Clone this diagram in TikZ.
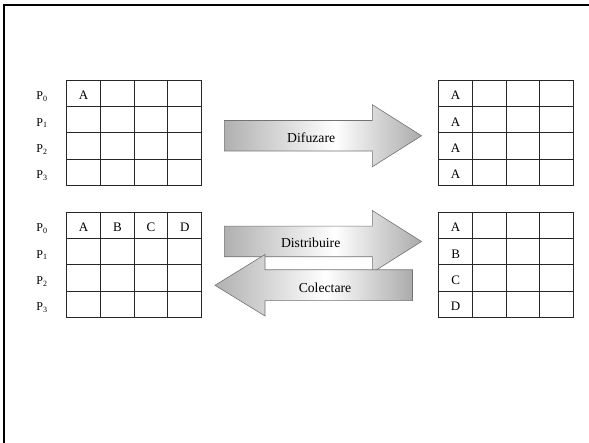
\documentclass[tikz,border=0pt]{standalone}
\usepackage{fontspec}
\setmainfont{Liberation Serif}
\pgfdeclarehorizontalshading{arrowshade}{100bp}{%
  color(0bp)=(gray!62); color(25bp)=(gray!62); color(53bp)=(white);
  color(75bp)=(gray!66); color(100bp)=(gray!66)}
\tikzset{
  cellgrid/.style={line width=0.9pt, draw=black!85},
  celltext/.style={anchor=base, inner sep=0pt, font=\fontsize{13}{15}\selectfont},
  proclabel/.style={anchor=base, inner sep=0pt, font=\fontsize{12}{14}\selectfont},
  bigarrow/.style={shading=arrowshade, draw=black!55, line width=0.6pt, line join=miter},
  arrowtext/.style={anchor=base, inner sep=0pt, font=\fontsize{13.7}{16}\selectfont},
}
\begin{document}
\begin{tikzpicture}[x=1pt, y=-1pt]
\useasboundingbox (0,0) rectangle (589,443);
\fill[white] (0,0) rectangle (589,443);

% page frame: only the top and left edges are visible
\draw[line width=2pt] (4.3,443) |- (589,5.3);

% the four 4x4 grids (column width 33.7, row height 26.35)
\foreach \gx/\gy in {66.8/80, 438.8/80, 66.8/212, 438.8/212} {
  \draw[cellgrid] (\gx,\gy) rectangle ++(134.8,105.4);
  \foreach \k in {1,2,3} {
    \draw[cellgrid] ({\gx+33.7*\k},\gy) -- ++(0,105.4);
    \draw[cellgrid] (\gx,{\gy+26.35*\k}) -- ++(134.8,0);
  }
}

% process labels beside the left grids
\foreach \gy/\gn in {80/top, 212/bot} {
  \foreach \r in {0,1,2,3} {
    \node[proclabel] (p-\gn-\r) at (42,{\gy+26.35*\r+19.8}) {P\textsubscript{\r}};
  }
}

% grid contents
\node[celltext] (tl-a) at (83.65,99.7) {A};
\foreach \r in {0,1,2,3} {
  \node[celltext] (tr-\r) at (455.65,{80+26.35*\r+19.7}) {A};
}
\foreach \c/\t in {0/A,1/B,2/C,3/D} {
  \node[celltext] (bl-\c) at ({66.8+33.7*\c+16.85},231.7) {\t};
}
\foreach \r/\t in {0/A,1/B,2/C,3/D} {
  \node[celltext] (br-\r) at (455.65,{212+26.35*\r+19.7}) {\t};
}

% broadcast arrow
\path[bigarrow] (224.3,120.5) -- (372.3,120.5) -- (372.3,104.7) -- (421.5,135.75)
  -- (372.3,166.8) -- (372.3,151) -- (224.3,151) -- cycle;
\node[arrowtext] (difuzare) at (311.2,142.7) {Difuzare};

% scatter arrow
\path[bigarrow] (224.3,226.2) -- (372.3,226.2) -- (372.3,210.5) -- (421.5,241.5)
  -- (372.3,272.5) -- (372.3,256.8) -- (224.3,256.8) -- cycle;
\node[arrowtext] (distribuire) at (310.7,247.7) {Distribuire};

% gather arrow, drawn over the scatter arrow
\path[bigarrow] (412.5,269.8) -- (265,269.8) -- (265,254.5) -- (215,285.3)
  -- (265,316) -- (265,300.7) -- (412.5,300.7) -- cycle;
\node[arrowtext] (colectare) at (325,292.3) {Colectare};
\end{tikzpicture}
\end{document}
